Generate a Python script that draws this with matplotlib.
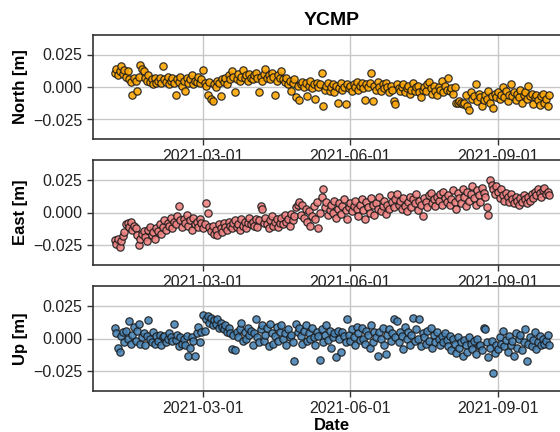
import numpy as np
import pandas as pd
import matplotlib
matplotlib.use("Agg")
import matplotlib.pyplot as plt
import matplotlib.dates as mdates

plt.rcParams['font.family'] = ['Liberation Sans', 'DejaVu Sans']

# daily solutions, 2021-01-05 .. 2021-10-03
start_date = "2021-01-05"
end_date = "2021-10-03"

# values in millimetres (month by month)
north_mm = [
    11, 14, 9, 12, 16, 10, 13, 8, 12, 6, 4, -6, 7, 5, -3, 8, 17, 14, 12, 7, 5, 9, 4, 6, 2, 7, 3,
    5, 7, 3, 16, 6, 4, 8, 2, 5, 7, 3, -6, 6, 4, 8, 1, 5, -3, 7, 3, 6, 9, 2, 5, 4, 8, 3, 6,
    13, 3, 1, -6, 4, -9, -11, 2, 0, 5, 3, -7, 6, 4, 7, 2, 9, 6, 12, 8, -4, 6, 10, 5, 8, 13, 7, 9, 5, 10, 7,
    6, 9, 11, 7, -4, 8, 5, 10, 14, 7, 9, 6, 11, 8, -6, 5, 9, 7, 12, 6, 4, 7, 2, 5, -3, 3, 6, -8, 1, -10,
    2, 4, 0, 3, -7, 1, 5, -1, 2, -9, 3, 0, 2, 11, -15, -2, 1, 3, -3, 0, 2, -4, 1, -12, -1, 3, -2, 0, -13, 2, -1,
    1, -3, 2, 0, 4, -2, 1, 3, -1, -10, 2, 0, 3, 11, -11, 1, -2, 4, 0, -3, 2, -1, 3, 0, -4, 1, -2, -11, -13, 2,
    -1, -3, 0, 2, -4, -1, 1, -5, -2, 3, -3, 0, 1, -4, -8, -2, 0, -3, 2, 4, -1, -5, 1, -3, -6, 0, -2, 5, -4, 1, -2,
    7, -3, -1, -5, 0, -12, -12, -11, -12, -13, -12, -6, -15, -18, -4, -9, -7, 2, -11, -5, -8, -15, -10, -6, -9, -3, -12, -7, -16, -5, -8,
    -4, -9, -6, 0, -8, -3, -11, -6, 2, -7, -4, -10, -5, -8, -2, -12, -6, -4, -9, 1, -7, -5, -13, -8, -6, -10, -14, -7, -5, -12,
    -9, -15, -6,
]

east_mm = [
    -21, -24, -20, -26, -22, -18, -15, -9, -8, -11, -7, -13, -10, -12, -17, -25, -20, -16, -14, -19, -22, -13, -11, -17, -15, -20, -12,
    -14, -9, -16, -11, -6, -13, -8, -10, -4, -12, -7, -9, -3, 5, -6, -11, -5, -8, -2, -10, -6, -13, -4, -9, -7, -11, -5, -8,
    -12, -9, 7, 0, -11, -14, -10, -16, -13, -17, -9, -12, -15, -8, -11, -13, -7, -10, -12, -8, -6, -11, -9, -13, -5, -10, -7, -12, -8, -4, -9,
    -7, -10, -5, -11, -6, 5, 3, -8, -4, -9, -12, -6, -3, -10, -7, -5, -11, -8, -4, -9, -2, -7, -5, -10, -1, -6, -3, 4, 6, 8,
    -2, 6, -4, 3, -7, 1, -10, -3, 5, -5, 8, -12, 0, 12, 18, 4, 8, -2, 2, 6, 0, 9, -4, 3, 7, -1, 5, 10, 2, -5, 4,
    7, 1, 5, 9, 3, -3, 6, 10, 2, -5, 8, 4, 0, 11, 6, -2, 7, 3, 12, 1, 5, 9, -1, 6, 3, 13, 8, 4, 10, 14,
    6, 9, 3, 11, 5, 1, 8, 12, 4, 10, 7, 14, 2, 9, 6, -3, 11, 8, 4, 13, 15, 7, 10, 5, 12, 9, 14, 6, 16, 11, 8,
    13, 6, 10, 17, 8, 3, 15, 11, 7, 18, 12, 5, 16, 9, 14, 20, 11, 6, 17, 13, 8, 19, 15, 12, 4, -2, 25, 21, 18, 14, 20,
    16, 11, 18, 13, 9, 15, 12, 8, 14, 10, 7, 12, 9, 6, 11, 8, 13, 10, 7, 12, 9, 14, 11, 16, 13, 18, 15, 12, 17, 19,
    14, 16, 13,
]

up_mm = [
    8, 4, -7, -10, 2, 5, -3, 6, 0, 13, -4, 3, 9, -2, 6, 11, -4, 1, 4, -5, 2, 14, 0, -3, 5, -4, 2,
    -2, 3, -5, 1, 2, -3, 0, 4, 1, -2, 11, -1, 3, -6, 1, -4, 0, -5, 2, -13, -7, 1, -2, -13, 4, 9, -3, 5,
    18, 6, 15, 17, 12, 16, 10, 14, 11, 15, 8, 12, 9, 7, 10, 5, 8, 4, -8, 3, -9, 5, 1, 7, 12, -2, 5, 0, 8, 3, 6,
    -5, 4, 15, 1, -3, 7, 10, -2, 3, 8, -6, 11, 4, -4, 2, 9, -2, 5, 10, 0, 4, -5, 7, 1, 3, -3, -17, 11, 5, 8,
    2, -4, 6, 10, -2, 4, 0, 8, 1, -5, 5, 2, -16, 7, -3, 3, 10, -1, 6, -7, 1, 4, -14, 6, 0, -10, 5, 2, -3, 15, 3,
    -2, 7, 1, -5, 9, 4, -1, 8, 0, -4, 6, 3, -7, 10, -3, 5, 1, -13, 5, 0, 8, -5, -12, 3, 7, -2, 4, 15, 1, 13,
    -3, 5, 2, -8, 9, 0, 5, -5, 3, 16, -2, 7, 0, 15, -6, 4, 1, -4, 6, -2, 8, -7, 3, -3, 5, 0, -5, 2, -3, 4, -1,
    -6, 2, -9, 0, -4, -11, 1, -7, -3, -13, -1, -5, -10, 1, -4, -8, -2, -12, 0, -6, -5, -9, 8, 7, -3, -14, -7, -2, -26, -11, -5,
    -8, 1, -4, 6, -6, -1, -10, 2, -5, -2, -13, 4, -7, 0, 3, -9, -3, 7, -17, -4, 1, -6, -1, 5, -8, -3, 2, -5, 0, -4,
    -2, 3, -5,
]

station = "YCMP"
components = ["North [m]", "East [m]", "Up [m]"]
series_mm = [north_mm, east_mm, up_mm]
colors = ["#FFA500", "#F08080", "#4682B4"]

dates = pd.date_range(start_date, end_date, freq="D")

fig = plt.figure(figsize=(5.6, 4.32), dpi=100)
W, H = 560, 432
left_px, width_px = 93, 478
panels_px = [(35, 139), (160, 265), (286, 391)]

axes = []
for (top, bot), lab, vals, col in zip(panels_px, components, series_mm, colors):
    ax = fig.add_axes([left_px / W, 1 - bot / H, width_px / W, (bot - top) / H])
    n = min(len(dates), len(vals))
    y = np.asarray(vals[:n], dtype=float) / 1000.0
    ax.scatter(dates[:n], y, s=28, c=col, edgecolors="#1a1a1a",
               linewidths=0.9, alpha=0.88, zorder=3)
    ax.set_ylim(-0.04, 0.04)
    ax.set_yticks([-0.025, 0.0, 0.025])
    ax.xaxis.set_major_locator(mdates.MonthLocator(bymonth=[3, 6, 9]))
    ax.xaxis.set_major_formatter(mdates.DateFormatter("%Y-%m-%d"))
    ax.grid(True, color="#c8c8c8", linewidth=1.0, zorder=0)
    ax.set_axisbelow(True)
    ax.tick_params(labelsize=11.5, length=4, width=1, color="#333333",
                   labelcolor="#222222")
    for sp in ax.spines.values():
        sp.set_color("#333333")
        sp.set_linewidth(1.2)
    ax.set_ylabel(lab, fontsize=12, fontweight="bold")
    axes.append(ax)

axes[0].set_title(station, fontsize=14, fontweight="bold", pad=7)
axes[-1].set_xlabel("Date", fontsize=12, fontweight="bold", labelpad=1)

fig.savefig("out.png", dpi=100)
